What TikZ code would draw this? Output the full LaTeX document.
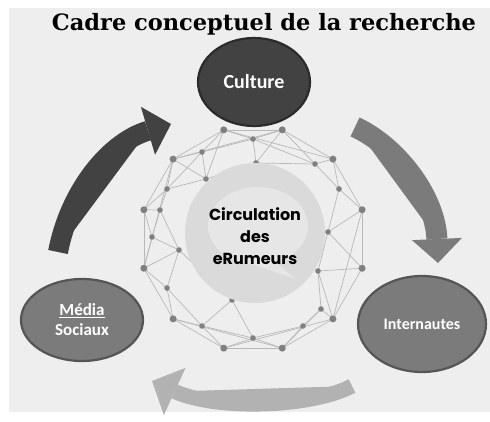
\documentclass[tikz,border=0pt]{standalone}
\usepackage{fontspec}
\setmainfont{Carlito}
\newfontfamily\titlefont{DejaVu Serif}
\newfontfamily\hubfont{Poppins}
\usetikzlibrary{positioning, arrows.meta, shapes.geometric}
\definecolor{bggrey}{HTML}{EEEEEE}
\definecolor{darkpole}{HTML}{424242}
\definecolor{darkedge}{HTML}{2B2B2B}
\definecolor{midpole}{HTML}{7B7B7B}
\definecolor{midedge}{HTML}{555555}
\definecolor{netgrey}{HTML}{B8B8B8}
\definecolor{dotgrey}{HTML}{808080}
\definecolor{hubgrey}{HTML}{DADADA}
\definecolor{bubblegrey}{HTML}{E6E6E6}
\tikzset{
  pole/.style={ellipse, draw, line width=2.2, text=white, font=\bfseries,
    align=center, inner sep=0pt},
  netline/.style={draw=netgrey, line width=0.7},
  netdot/.style={fill=dotgrey},
  flow/.style={line width=20,
    -{Triangle[width=50pt,length=24pt,line width=0pt]}},
}

\begin{document}
\begin{tikzpicture}[x=1pt, y=-1pt]
  \useasboundingbox (0,0) rectangle (490,421);
  \fill[bggrey] (9,8) rectangle (490,412);

  % network
  \foreach \k in {0,...,11}
    \coordinate (o\k) at ([shift={(253,239)}]15+30*\k:113);
  \foreach \n/\x/\y in {i1/253/139, i2/202/152, i3/315/164, i4/256/163,
      i5/206/179, i6/167/189, i7/339/189, i8/160/210, i9/152/237,
      i10/328/232, i11/179/250, i12/318/271, i13/167/288, i14/321/309,
      i15/232/300, i16/202/326, i17/303/326, i18/253/338}
    \coordinate (\n) at (\x,\y);

  \foreach \k in {0,...,11}{
    \pgfmathtruncatemacro\j{mod(\k+1,12)}
    \draw[netline] (o\k) -- (o\j);
  }
  \foreach \a/\b in {o8/i1, o8/i2, o8/i5, o9/i1, o9/i3, o9/i4, o10/i3,
      o10/i7, o11/i7, o11/i10, o0/i10, o0/i12, o1/i12, o1/i14, o2/i17,
      o2/i18, o2/i14, o3/i18, o3/i16, o4/i16, o4/i13, o5/i13, o5/i11,
      o5/i9, o6/i9, o6/i8, o6/i6, o7/i6, o7/i2, o7/i5,
      i1/i2, i1/i3, i1/i4, i2/i5, i2/i6, i3/i7, i3/i4, i4/i5, i5/i6,
      i6/i8, i8/i9, i9/i11, i8/i11, i7/i10, i10/i12, i12/i14, i14/i17,
      i17/i18, i18/i16, i16/i13, i13/i11, i11/i15, i15/i16, i15/i18,
      o8/o10, o7/o9, o1/o3, o2/o4, o11/o1, o5/o7}
    \draw[netline] (\a) -- (\b);
  \foreach \n in {o0,o1,o2,o3,o4,o5,o6,o7,o8,o9,o10,o11}
    \fill[netdot] (\n) circle (3.5);
  \foreach \n in {i1,i2,i3,i4,i5,i6,i7,i8,i9,i10,i11,i12,i13,i14,i15,i16,i17,i18}
    \fill[netdot] (\n) circle (2.8);

  % centre
  \node[circle, fill=hubgrey, minimum size=140] (hub) at (255,233) {};
  \fill[bubblegrey] (258,226) ellipse (50 and 39);
  \fill[bubblegrey] (270,258) -- (296,279) -- (248,263) -- cycle;
  \node[font=\hubfont\bfseries\fontsize{16}{22}\selectfont, align=center]
    (hubtext) at (255,236) {Circulation\\des\\eRumeurs};

  % poles
  \node[pole, fill=darkpole, draw=darkedge, minimum width=112,
    minimum height=88, font=\bfseries\fontsize{20}{22}\selectfont]
    (culture) at (254,82) {Culture};
  \node[pole, fill=midpole, draw=midedge, minimum width=122,
    minimum height=82, font=\bfseries\fontsize{17}{20}\selectfont]
    (media) at (82,320) {\underline{Média}\\Sociaux};
  \node[pole, fill=midpole, draw=midedge, minimum width=128,
    minimum height=96, font=\bfseries\fontsize{16}{19}\selectfont]
    (internautes) at (422,324) {Internautes};

  % flows
  \coordinate (lstart) at (58,252);
  \coordinate (lend) at (171,124);
  \coordinate (rstart) at (355,127);
  \coordinate (rend) at (438,263);
  \coordinate (bstart) at (352,386);
  \coordinate (bend) at (152,381);
  \draw[flow, draw=darkpole, fill=darkpole]
    (lstart) .. controls (70,190) and (110,142) .. (lend);
  \draw[flow, draw=midpole, fill=midpole, line width=21]
    (rstart) .. controls (395,145) and (435,195) .. (rend);
  \draw[flow, draw=black!30, fill=black!30, line width=15,
    -{Triangle[width=52pt,length=25pt,line width=0pt]}]
    (bstart) .. controls (310,408) and (215,410) .. (bend);

  \node[anchor=base, font=\titlefont\bfseries\fontsize{22.5}{26}\selectfont]
    (title) at (264,30) {Cadre conceptuel de la recherche};
\end{tikzpicture}
\end{document}
